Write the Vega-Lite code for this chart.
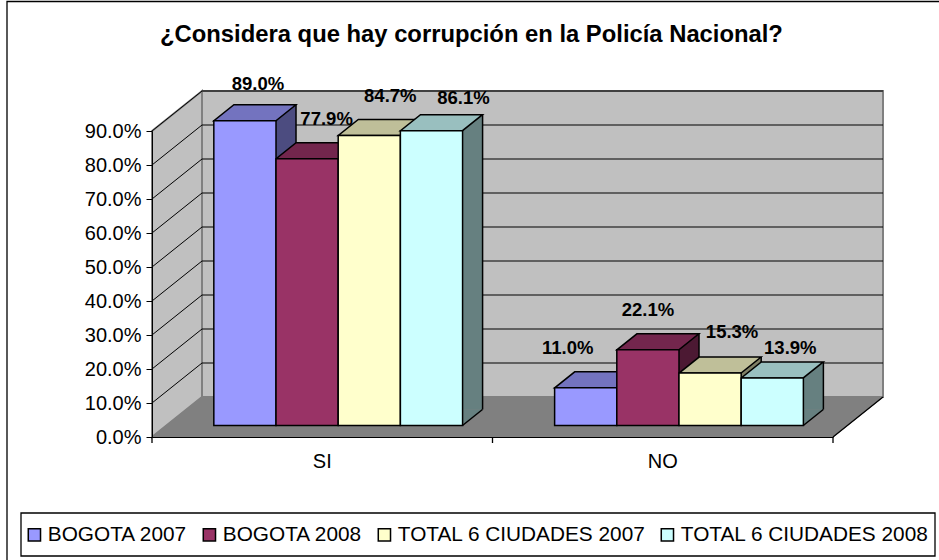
{
"$schema":"https://vega.github.io/schema/vega-lite/v6.json",
"autosize":{"type":"none"},
"padding":{"left":152,"top":131,"right":106,"bottom":123},
"width":681,"height":306,
"background":"white",
"config":{"view":{"stroke":null},"font":"Liberation Sans"},
"title":{"text":"¿Considera que hay corrupción en la Policía Nacional?","font":"Liberation Sans","fontSize":23.8,"fontWeight":"bold","color":"black","anchor":"middle","frame":"group","offset":-48,"dx":-21},
"datasets":{
"ticks":[{"tick":0},{"tick":0.1},{"tick":0.2},{"tick":0.3},{"tick":0.4},{"tick":0.5},{"tick":0.6},{"tick":0.7},{"tick":0.8},{"tick":0.9}],
"main":[
{"cat":"SI","series":"BOGOTA 2007","value":0.89},
{"cat":"SI","series":"BOGOTA 2008","value":0.779},
{"cat":"SI","series":"TOTAL 6 CIUDADES 2007","value":0.847},
{"cat":"SI","series":"TOTAL 6 CIUDADES 2008","value":0.861},
{"cat":"NO","series":"BOGOTA 2007","value":0.11},
{"cat":"NO","series":"BOGOTA 2008","value":0.221},
{"cat":"NO","series":"TOTAL 6 CIUDADES 2007","value":0.153},
{"cat":"NO","series":"TOTAL 6 CIUDADES 2008","value":0.139}
]},
"data":{"name":"main"},
"resolve":{"scale":{"x":"independent","y":"independent","color":"independent"}},
"layer":[
{"data":{"name":"ticks"},"transform":[{"filter":"datum.tick==0"}],
 "mark":{"type":"point","shape":"M50,-40 H731 V-346 H50 Z","size":4,"filled":true,"opacity":1,"color":"#c0c0c0","stroke":"#808080","strokeWidth":2},
 "encoding":{"x":{"value":0},"y":{"field":"tick","type":"quantitative","scale":{"domain":[0,0.9],"nice":false},
   "axis":{"values":[0,0.1,0.2,0.3,0.4,0.5,0.6,0.7,0.8,0.9],"format":".1%","title":null,"grid":false,"labelFont":"Liberation Sans","labelFontSize":20,"labelColor":"black","tickColor":"black","domainColor":"black","tickSize":6,"labelPadding":5,"zindex":1}}}},
{"data":{"name":"ticks"},"transform":[{"filter":"datum.tick==0"}],
 "mark":{"type":"point","shape":"M0,0 L50,-40 V-346 L0,-306 Z","size":4,"filled":true,"opacity":1,"color":"#c0c0c0","stroke":"#808080","strokeWidth":2},
 "encoding":{"x":{"value":0},"y":{"field":"tick","type":"quantitative","scale":{"domain":[0,0.9],"nice":false},"axis":null}}},
{"data":{"name":"ticks"},"transform":[{"filter":"datum.tick==0"}],
 "mark":{"type":"point","shape":"M0,0 L50,-40 H731 L681,0 Z","size":4,"filled":true,"opacity":1,"color":"#808080","stroke":"#808080","strokeWidth":1},
 "encoding":{"x":{"value":0},"y":{"field":"tick","type":"quantitative","scale":{"domain":[0,0.9],"nice":false},"axis":null}}},
{"data":{"name":"ticks"},"transform":[{"filter":"datum.tick>0"}],
 "mark":{"type":"point","shape":"M0,0 L50,-40 H731","size":4,"filled":false,"opacity":1,"color":"black","strokeWidth":1},
 "encoding":{"x":{"value":0},"y":{"field":"tick","type":"quantitative","scale":{"domain":[0,0.9],"nice":false},"axis":null}}},
{"data":{"name":"ticks"},"transform":[{"filter":"datum.tick==0"}],
 "mark":{"type":"point","shape":"M-145,123 V-435.5 H787 M681,0 L731,-40 M0,0 V6 M340.5,0 V6 M681,0 V6 M-131,76 H783 V119 H-131 Z","size":4,"filled":false,"opacity":1,"color":"black","strokeWidth":1.3},
 "encoding":{"x":{"value":0},"y":{"field":"tick","type":"quantitative","scale":{"domain":[0,0.9],"nice":false},"axis":null}}},
{"mark":{"type":"point","opacity":0,"size":1},
 "encoding":{"x":{"field":"cat","type":"nominal","scale":{"type":"band","domain":["SI","NO"],"range":[0,681],"paddingInner":0,"paddingOuter":0},
   "axis":{"title":null,"ticks":false,"labelAngle":0,"labelFont":"Liberation Sans","labelFontSize":20,"labelColor":"black","domainColor":"black","labelPadding":14,"zindex":1}},
   "y":{"value":306}}},
{"mark":{"type":"bar","width":20,"stroke":null},
 "encoding":{"x":{"field":"cat","type":"nominal","axis":null,"scale":{"type":"band","domain":["SI","NO"],"range":[56.9,738.5],"paddingInner":0,"paddingOuter":0}},
  "xOffset":{"field":"series","type":"nominal","scale":{"type":"band","paddingInner":0,"paddingOuter":0.74}},
  "y":{"field":"value","type":"quantitative","stack":null,"axis":null,"scale":{"domain":[0,0.9],"nice":false,"range":[278.5,-29.7]}},
  "color":{"field":"series","type":"nominal","legend":null,"scale":{"range":["#4c4c80","#4c1933","#808066","#668080"]}}}},
{"mark":{"type":"point","shape":"M31,0 L51,-16 L31,-16 Z","size":4,"filled":true,"opacity":1},
 "transform":[{"calculate":"0","as":"base"}],
 "encoding":{"x":{"field":"cat","type":"nominal","axis":null,"scale":{"type":"band","domain":["SI","NO"],"range":[15.8,697.4],"paddingInner":0,"paddingOuter":0}},
  "xOffset":{"field":"series","type":"nominal","scale":{"type":"band","paddingInner":0,"paddingOuter":0.74}},
  "y":{"field":"base","type":"quantitative","axis":null,"scale":{"domain":[0,0.9],"nice":false,"range":[294.5,-13.7]}},
  "color":{"field":"series","type":"nominal","legend":null,"scale":{"range":["#4c4c80","#4c1933","#808066","#668080"]}}}},
{"mark":{"type":"point","shape":"M31,0 L51,-16","size":4,"filled":false,"opacity":1,"color":"black","strokeWidth":1.5},
 "transform":[{"calculate":"0","as":"base"}],
 "encoding":{"x":{"field":"cat","type":"nominal","axis":null,"scale":{"type":"band","domain":["SI","NO"],"range":[15.8,697.4],"paddingInner":0,"paddingOuter":0}},
  "xOffset":{"field":"series","type":"nominal","scale":{"type":"band","paddingInner":0,"paddingOuter":0.74}},
  "y":{"field":"base","type":"quantitative","axis":null,"scale":{"domain":[0,0.9],"nice":false,"range":[294.5,-13.7]}}}},
{"mark":{"type":"rule","color":"black","strokeWidth":1.5},
 "encoding":{"x":{"field":"cat","type":"nominal","axis":null,"scale":{"type":"band","domain":["SI","NO"],"range":[66.9,748.5],"paddingInner":0,"paddingOuter":0}},
  "xOffset":{"field":"series","type":"nominal","scale":{"type":"band","paddingInner":0,"paddingOuter":0.74}},
  "y":{"field":"value","type":"quantitative","stack":null,"axis":null,"scale":{"domain":[0,0.9],"nice":false,"range":[278.5,-29.7]}},
  "y2":{"datum":0}}},
{"mark":{"type":"point","shape":"M-31,0 L31,0 L51,-16 L-11,-16 Z","size":4,"filled":true,"opacity":1,"stroke":"black","strokeWidth":1.5},
 "encoding":{"x":{"field":"cat","type":"nominal","axis":null,"scale":{"type":"band","domain":["SI","NO"],"range":[15.8,697.4],"paddingInner":0,"paddingOuter":0}},
  "xOffset":{"field":"series","type":"nominal","scale":{"type":"band","paddingInner":0,"paddingOuter":0.74}},
  "y":{"field":"value","type":"quantitative","axis":null,"scale":{"domain":[0,0.9],"nice":false,"range":[294.5,-13.7]}},
  "color":{"field":"series","type":"nominal","legend":null,"scale":{"range":["#7373bf","#73264d","#bfbf99","#99bfbf"]}}}},
{"mark":{"type":"bar","stroke":"black","strokeWidth":1.5},
 "encoding":{"x":{"field":"cat","type":"nominal","axis":null,"scale":{"type":"band","domain":["SI","NO"],"range":[15.8,697.4],"paddingInner":0,"paddingOuter":0}},
  "xOffset":{"field":"series","type":"nominal","scale":{"type":"band","paddingInner":0,"paddingOuter":0.74}},
  "y":{"field":"value","type":"quantitative","stack":null,"axis":null,"scale":{"domain":[0,0.9],"nice":false,"range":[294.5,-13.7]}},
  "color":{"field":"series","type":"nominal","scale":{"range":["#9999ff","#993366","#ffffcc","#ccffff"]},
   "legend":{"title":null,"orient":"none","legendX":-138,"legendY":383,"direction":"horizontal","columns":4,"symbolType":"square","symbolSize":150,"symbolStrokeColor":"black","symbolStrokeWidth":1.5,"labelFont":"Liberation Sans","labelFontSize":20.8,"labelColor":"black","labelLimit":400,"labelOffset":3,"columnPadding":11,"padding":10}}}},
{"mark":{"type":"text","font":"Liberation Sans","fontWeight":"bold","fontSize":18.5,"color":"black","baseline":"middle",
  "dx":{"expr":"{'SIBOGOTA 2007':13,'SIBOGOTA 2008':19.5,'SITOTAL 6 CIUDADES 2007':21,'SITOTAL 6 CIUDADES 2008':32,'NOBOGOTA 2007':-18,'NOBOGOTA 2008':0,'NOTOTAL 6 CIUDADES 2007':22,'NOTOTAL 6 CIUDADES 2008':18}[datum.cat+datum.series]"},
  "dy":{"expr":"{'SIBOGOTA 2007':-37,'SIBOGOTA 2008':-40,'SITOTAL 6 CIUDADES 2007':-39,'SITOTAL 6 CIUDADES 2008':-33,'NOBOGOTA 2007':-40,'NOBOGOTA 2008':-40,'NOTOTAL 6 CIUDADES 2007':-41,'NOTOTAL 6 CIUDADES 2008':-30}[datum.cat+datum.series]"}},
 "encoding":{"x":{"field":"cat","type":"nominal","axis":null,"scale":{"type":"band","domain":["SI","NO"],"range":[15.8,697.4],"paddingInner":0,"paddingOuter":0}},
  "xOffset":{"field":"series","type":"nominal","scale":{"type":"band","paddingInner":0,"paddingOuter":0.74}},
  "y":{"field":"value","type":"quantitative","stack":null,"axis":null,"scale":{"domain":[0,0.9],"nice":false,"range":[294.5,-13.7]}},
  "text":{"field":"value","type":"quantitative","format":".1%"}}}
]}
